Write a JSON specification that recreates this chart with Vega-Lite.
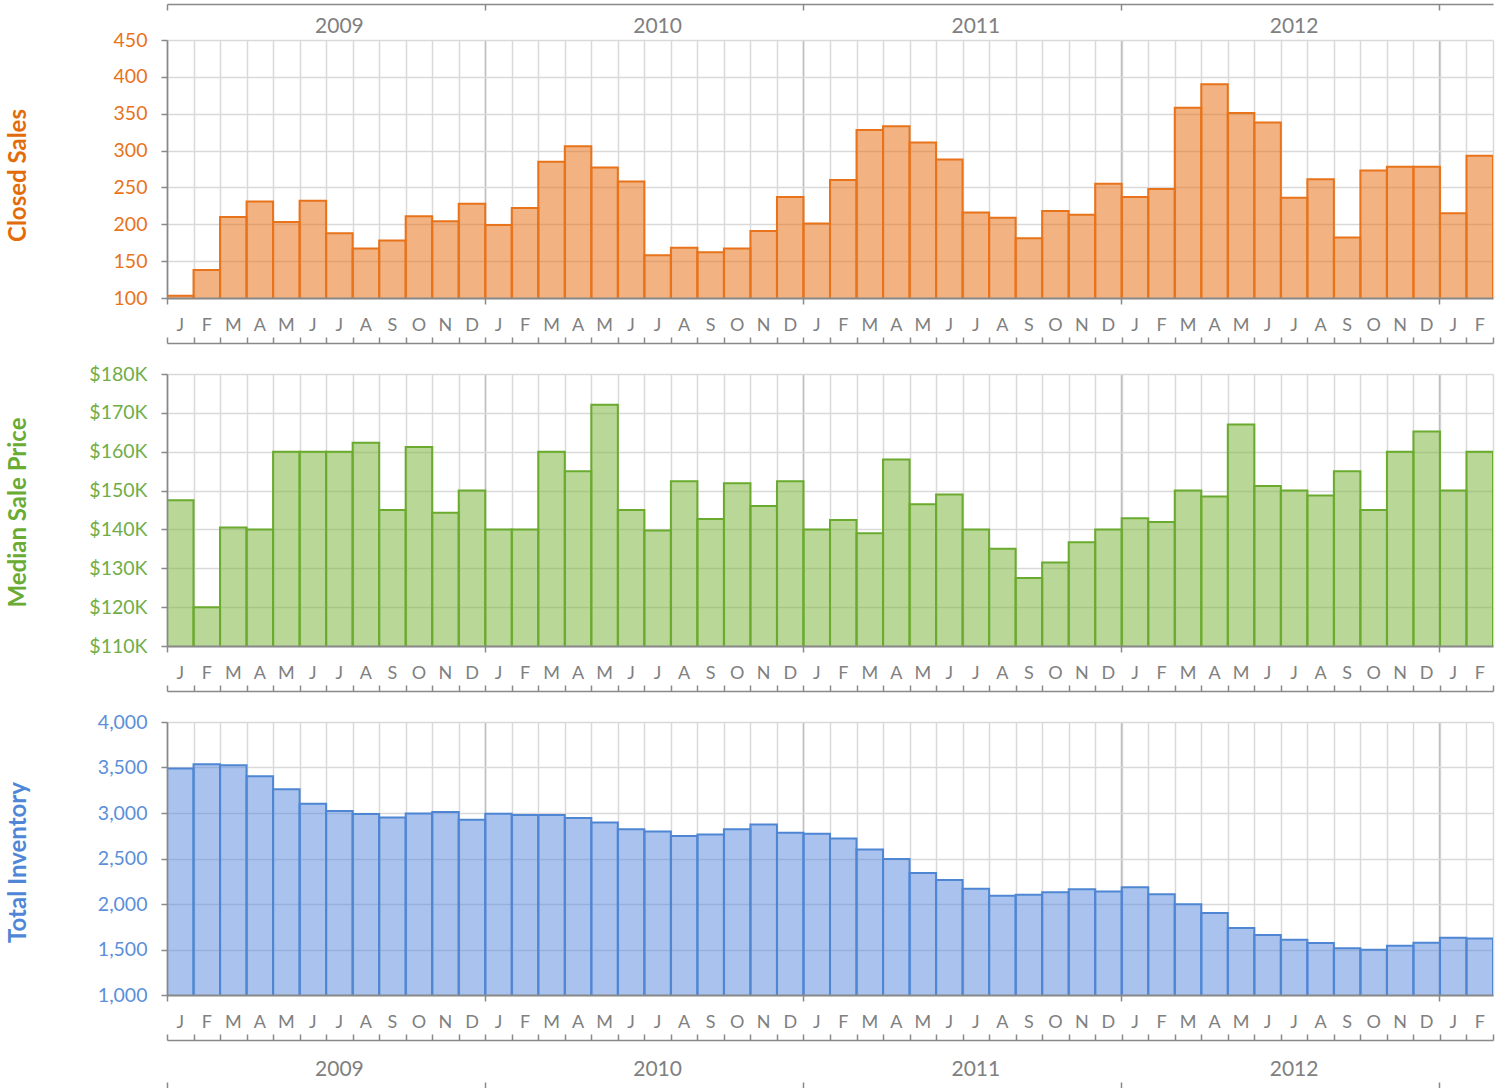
{
  "$schema": "https://vega.github.io/schema/vega-lite/v6.json",
  "background": "white",
  "padding": {"left": 6, "top": 3, "right": 5, "bottom": 0},
  "config": {
    "font": "Lato",
    "view": {"stroke": null},
    "axis": {"labelFont": "Lato", "titleFont": "Lato"}
  },
  "data": {"values": [
    {"m": "2009-01", "sales": 103, "price": 147500, "inv": 3488},
    {"m": "2009-02", "sales": 138, "price": 120000, "inv": 3536},
    {"m": "2009-03", "sales": 210, "price": 140500, "inv": 3525},
    {"m": "2009-04", "sales": 231, "price": 140000, "inv": 3404},
    {"m": "2009-05", "sales": 203, "price": 160000, "inv": 3260},
    {"m": "2009-06", "sales": 232, "price": 160000, "inv": 3102},
    {"m": "2009-07", "sales": 188, "price": 160000, "inv": 3021},
    {"m": "2009-08", "sales": 167, "price": 162300, "inv": 2988},
    {"m": "2009-09", "sales": 178, "price": 145000, "inv": 2951},
    {"m": "2009-10", "sales": 211, "price": 161200, "inv": 2995},
    {"m": "2009-11", "sales": 204, "price": 144300, "inv": 3010},
    {"m": "2009-12", "sales": 228, "price": 150000, "inv": 2925},
    {"m": "2010-01", "sales": 199, "price": 140000, "inv": 2991},
    {"m": "2010-02", "sales": 222, "price": 140000, "inv": 2977},
    {"m": "2010-03", "sales": 285, "price": 160000, "inv": 2977},
    {"m": "2010-04", "sales": 306, "price": 155000, "inv": 2944},
    {"m": "2010-05", "sales": 277, "price": 172100, "inv": 2896},
    {"m": "2010-06", "sales": 258, "price": 145000, "inv": 2822},
    {"m": "2010-07", "sales": 158, "price": 139700, "inv": 2796},
    {"m": "2010-08", "sales": 168, "price": 152400, "inv": 2748},
    {"m": "2010-09", "sales": 162, "price": 142700, "inv": 2763},
    {"m": "2010-10", "sales": 167, "price": 151900, "inv": 2822},
    {"m": "2010-11", "sales": 191, "price": 146000, "inv": 2874},
    {"m": "2010-12", "sales": 237, "price": 152400, "inv": 2782},
    {"m": "2011-01", "sales": 201, "price": 140000, "inv": 2771},
    {"m": "2011-02", "sales": 260, "price": 142400, "inv": 2719},
    {"m": "2011-03", "sales": 328, "price": 139000, "inv": 2598},
    {"m": "2011-04", "sales": 333, "price": 158000, "inv": 2494},
    {"m": "2011-05", "sales": 311, "price": 146500, "inv": 2340},
    {"m": "2011-06", "sales": 288, "price": 149000, "inv": 2263},
    {"m": "2011-07", "sales": 216, "price": 140000, "inv": 2167},
    {"m": "2011-08", "sales": 209, "price": 135000, "inv": 2090},
    {"m": "2011-09", "sales": 181, "price": 127500, "inv": 2101},
    {"m": "2011-10", "sales": 218, "price": 131500, "inv": 2130},
    {"m": "2011-11", "sales": 213, "price": 136700, "inv": 2163},
    {"m": "2011-12", "sales": 255, "price": 140000, "inv": 2137},
    {"m": "2012-01", "sales": 237, "price": 142900, "inv": 2185},
    {"m": "2012-02", "sales": 248, "price": 141900, "inv": 2108},
    {"m": "2012-03", "sales": 358, "price": 150000, "inv": 1998},
    {"m": "2012-04", "sales": 390, "price": 148500, "inv": 1902},
    {"m": "2012-05", "sales": 351, "price": 167000, "inv": 1736},
    {"m": "2012-06", "sales": 338, "price": 151200, "inv": 1659},
    {"m": "2012-07", "sales": 236, "price": 150000, "inv": 1607},
    {"m": "2012-08", "sales": 261, "price": 148700, "inv": 1571},
    {"m": "2012-09", "sales": 182, "price": 155000, "inv": 1515},
    {"m": "2012-10", "sales": 273, "price": 145000, "inv": 1497},
    {"m": "2012-11", "sales": 278, "price": 160000, "inv": 1541},
    {"m": "2012-12", "sales": 278, "price": 165200, "inv": 1574},
    {"m": "2013-01", "sales": 215, "price": 150000, "inv": 1629},
    {"m": "2013-02", "sales": 293, "price": 160000, "inv": 1622}
  ]},
  "bounds": "flush",
  "spacing": 76,
  "vconcat": [
    {
      "width": 1326,
      "height": 258,
      "resolve": {"axis": {"x": "independent", "y": "independent"}},
      "layer": [
        {
          "mark": {"type": "bar", "fill": "#E8731A", "fillOpacity": 0.55, "stroke": "#E8731A", "strokeWidth": 2, "clip": true},
          "encoding": {
            "x": {"field": "m", "type": "ordinal", "scale": {"type": "band", "paddingInner": 0, "paddingOuter": 0},
              "axis": {"orient": "bottom", "title": null, "labels": false, "ticks": false, "domain": false, "grid": true, "tickBand": "extent", "gridColor": "#d9d9d9", "gridWidth": 1.5}},
            "y": {"field": "sales", "type": "quantitative", "scale": {"domain": [100, 450], "zero": false, "nice": false},
              "axis": {"orient": "left", "title": null, "labels": false, "ticks": false, "domain": false, "grid": true, "values": [100, 150, 200, 250, 300, 350, 400, 450], "gridColor": "#d9d9d9", "gridWidth": 1.5}}
          }
        },
        {
          "mark": {"type": "bar", "opacity": 0, "clip": true},
          "encoding": {
            "x": {"field": "m", "type": "ordinal", "scale": {"type": "band", "paddingInner": 0, "paddingOuter": 0},
              "axis": {"orient": "bottom", "title": null, "labels": false, "ticks": false, "domain": false, "grid": true, "values": ["2009-01", "2010-01", "2011-01", "2012-01", "2013-01"], "bandPosition": 0, "gridColor": "#bfbfbf", "gridWidth": 1.5}},
            "y": {"field": "sales", "type": "quantitative",
              "axis": {"orient": "left", "title": "Closed Sales", "titleColor": "#E36C0A", "titleFontSize": 24, "titleFontWeight": "bold", "titleX": -149, "titleY": 135, "titleAngle": -90, "titleBaseline": "middle", "titleAlign": "center",
                "values": [100, 150, 200, 250, 300, 350, 400, 450], "labelColor": "#E8731A", "labelFontSize": 19.5, "labelPadding": 14, "tickSize": 6, "tickColor": "#898989", "tickWidth": 1.5, "domainColor": "#898989", "domainWidth": 1.5, "grid": false, "zindex": 1}}
          }
        },
        {
          "mark": {"type": "bar", "opacity": 0, "clip": true},
          "encoding": {
            "x": {"field": "m", "type": "ordinal", "scale": {"type": "band", "paddingInner": 0, "paddingOuter": 0},
              "axis": {"orient": "bottom", "title": null, "domain": false, "ticks": false, "grid": false, "labelExpr": "['J','F','M','A','M','J','J','A','S','O','N','D'][toNumber(slice(datum.value,5,7))-1]", "labelColor": "#808080", "labelFontSize": 18, "labelPadding": 27, "labelBaseline": "middle", "labelAngle": 0, "labelOverlap": false, "labelFlush": false}},
            "y": {"field": "sales", "type": "quantitative", "axis": null}
          }
        },
        {
          "mark": {"type": "bar", "opacity": 0, "clip": true},
          "encoding": {
            "x": {"field": "m", "type": "ordinal", "scale": {"type": "band", "paddingInner": 0, "paddingOuter": 0},
              "axis": {"orient": "bottom", "title": null, "labels": false, "grid": false, "domain": true, "domainColor": "#898989", "domainWidth": 2, "ticks": true, "values": ["2009-01", "2010-01", "2011-01", "2012-01", "2013-01"], "bandPosition": 0, "tickSize": 6, "tickColor": "#898989", "tickWidth": 1.5, "zindex": 1}},
            "y": {"field": "sales", "type": "quantitative", "axis": null}
          }
        },
        {
          "mark": {"type": "bar", "opacity": 0, "clip": true},
          "encoding": {
            "x": {"field": "m", "type": "ordinal", "scale": {"type": "band", "paddingInner": 0, "paddingOuter": 0},
              "axis": {"orient": "bottom", "offset": 45, "title": null, "labels": false, "grid": false, "domain": true, "domainColor": "#898989", "domainWidth": 1.5, "ticks": true, "tickBand": "extent", "tickSize": -6, "tickColor": "#898989", "tickWidth": 1.5}},
            "y": {"field": "sales", "type": "quantitative", "axis": null}
          }
        },
        {
          "mark": {"type": "bar", "opacity": 0, "clip": true},
          "encoding": {
            "x": {"field": "m", "type": "ordinal", "scale": {"type": "band", "paddingInner": 0, "paddingOuter": 0},
              "axis": {"orient": "top", "offset": 36, "title": null, "labels": false, "grid": false, "domain": true, "domainColor": "#898989", "domainWidth": 1.5, "ticks": true, "values": ["2009-01", "2010-01", "2011-01", "2012-01", "2013-01"], "bandPosition": 0, "tickSize": -6, "tickColor": "#898989", "tickWidth": 1.5}},
            "y": {"field": "sales", "type": "quantitative", "axis": null}
          }
        },
        {
          "mark": {"type": "bar", "opacity": 0, "clip": true},
          "encoding": {
            "x": {"field": "m", "type": "ordinal", "scale": {"type": "band", "paddingInner": 0, "paddingOuter": 0},
              "axis": {"orient": "top", "title": null, "domain": false, "ticks": false, "grid": false, "values": ["2009-07", "2010-07", "2011-07", "2012-07"], "labelExpr": "slice(datum.value,0,4)", "labelColor": "#808080", "labelFontSize": 21, "labelPadding": 14, "labelBaseline": "middle", "labelAngle": 0, "labelOverlap": false}},
            "y": {"field": "sales", "type": "quantitative", "axis": null}
          }
        }
      ]
    },
    {
      "width": 1326,
      "height": 272,
      "resolve": {"axis": {"x": "independent", "y": "independent"}},
      "layer": [
        {
          "mark": {"type": "bar", "fill": "#7FB842", "fillOpacity": 0.55, "stroke": "#6AAA2E", "strokeWidth": 2, "clip": true},
          "encoding": {
            "x": {"field": "m", "type": "ordinal", "scale": {"type": "band", "paddingInner": 0, "paddingOuter": 0},
              "axis": {"orient": "bottom", "title": null, "labels": false, "ticks": false, "domain": false, "grid": true, "tickBand": "extent", "gridColor": "#d9d9d9", "gridWidth": 1.5}},
            "y": {"field": "price", "type": "quantitative", "scale": {"domain": [110000, 180000], "zero": false, "nice": false},
              "axis": {"orient": "left", "title": null, "labels": false, "ticks": false, "domain": false, "grid": true, "values": [110000, 120000, 130000, 140000, 150000, 160000, 170000, 180000], "gridColor": "#d9d9d9", "gridWidth": 1.5}}
          }
        },
        {
          "mark": {"type": "bar", "opacity": 0, "clip": true},
          "encoding": {
            "x": {"field": "m", "type": "ordinal", "scale": {"type": "band", "paddingInner": 0, "paddingOuter": 0},
              "axis": {"orient": "bottom", "title": null, "labels": false, "ticks": false, "domain": false, "grid": true, "values": ["2009-01", "2010-01", "2011-01", "2012-01", "2013-01"], "bandPosition": 0, "gridColor": "#bfbfbf", "gridWidth": 1.5}},
            "y": {"field": "price", "type": "quantitative",
              "axis": {"orient": "left", "title": "Median Sale Price", "titleColor": "#6AAB34", "titleFontSize": 24, "titleFontWeight": "bold", "titleX": -149, "titleY": 138, "titleAngle": -90, "titleBaseline": "middle", "titleAlign": "center",
                "values": [110000, 120000, 130000, 140000, 150000, 160000, 170000, 180000], "labelExpr": "'$' + format(datum.value/1000, 'd') + 'K'", "labelColor": "#70AD47", "labelFontSize": 19.5, "labelPadding": 14, "tickSize": 6, "tickColor": "#898989", "tickWidth": 1.5, "domainColor": "#898989", "domainWidth": 1.5, "grid": false, "zindex": 1}}
          }
        },
        {
          "mark": {"type": "bar", "opacity": 0, "clip": true},
          "encoding": {
            "x": {"field": "m", "type": "ordinal", "scale": {"type": "band", "paddingInner": 0, "paddingOuter": 0},
              "axis": {"orient": "bottom", "title": null, "domain": false, "ticks": false, "grid": false, "labelExpr": "['J','F','M','A','M','J','J','A','S','O','N','D'][toNumber(slice(datum.value,5,7))-1]", "labelColor": "#808080", "labelFontSize": 18, "labelPadding": 27, "labelBaseline": "middle", "labelAngle": 0, "labelOverlap": false, "labelFlush": false}},
            "y": {"field": "price", "type": "quantitative", "axis": null}
          }
        },
        {
          "mark": {"type": "bar", "opacity": 0, "clip": true},
          "encoding": {
            "x": {"field": "m", "type": "ordinal", "scale": {"type": "band", "paddingInner": 0, "paddingOuter": 0},
              "axis": {"orient": "bottom", "title": null, "labels": false, "grid": false, "domain": true, "domainColor": "#898989", "domainWidth": 2, "ticks": true, "values": ["2009-01", "2010-01", "2011-01", "2012-01", "2013-01"], "bandPosition": 0, "tickSize": 6, "tickColor": "#898989", "tickWidth": 1.5, "zindex": 1}},
            "y": {"field": "price", "type": "quantitative", "axis": null}
          }
        },
        {
          "mark": {"type": "bar", "opacity": 0, "clip": true},
          "encoding": {
            "x": {"field": "m", "type": "ordinal", "scale": {"type": "band", "paddingInner": 0, "paddingOuter": 0},
              "axis": {"orient": "bottom", "offset": 45, "title": null, "labels": false, "grid": false, "domain": true, "domainColor": "#898989", "domainWidth": 1.5, "ticks": true, "tickBand": "extent", "tickSize": -6, "tickColor": "#898989", "tickWidth": 1.5}},
            "y": {"field": "price", "type": "quantitative", "axis": null}
          }
        }
      ]
    },
    {
      "width": 1326,
      "height": 273,
      "resolve": {"axis": {"x": "independent", "y": "independent"}},
      "layer": [
        {
          "mark": {"type": "bar", "fill": "#5588DD", "fillOpacity": 0.5, "stroke": "#4F86D4", "strokeWidth": 2, "clip": true},
          "encoding": {
            "x": {"field": "m", "type": "ordinal", "scale": {"type": "band", "paddingInner": 0, "paddingOuter": 0},
              "axis": {"orient": "bottom", "title": null, "labels": false, "ticks": false, "domain": false, "grid": true, "tickBand": "extent", "gridColor": "#d9d9d9", "gridWidth": 1.5}},
            "y": {"field": "inv", "type": "quantitative", "scale": {"domain": [1000, 4000], "zero": false, "nice": false},
              "axis": {"orient": "left", "title": null, "labels": false, "ticks": false, "domain": false, "grid": true, "values": [1000, 1500, 2000, 2500, 3000, 3500, 4000], "gridColor": "#d9d9d9", "gridWidth": 1.5}}
          }
        },
        {
          "mark": {"type": "bar", "opacity": 0, "clip": true},
          "encoding": {
            "x": {"field": "m", "type": "ordinal", "scale": {"type": "band", "paddingInner": 0, "paddingOuter": 0},
              "axis": {"orient": "bottom", "title": null, "labels": false, "ticks": false, "domain": false, "grid": true, "values": ["2009-01", "2010-01", "2011-01", "2012-01", "2013-01"], "bandPosition": 0, "gridColor": "#bfbfbf", "gridWidth": 1.5}},
            "y": {"field": "inv", "type": "quantitative",
              "axis": {"orient": "left", "title": "Total Inventory", "titleColor": "#4F86D6", "titleFontSize": 24, "titleFontWeight": "bold", "titleX": -149, "titleY": 140, "titleAngle": -90, "titleBaseline": "middle", "titleAlign": "center",
                "values": [1000, 1500, 2000, 2500, 3000, 3500, 4000], "format": ",d", "labelColor": "#5B8FD9", "labelFontSize": 19.5, "labelPadding": 14, "tickSize": 6, "tickColor": "#898989", "tickWidth": 1.5, "domainColor": "#898989", "domainWidth": 1.5, "grid": false, "zindex": 1}}
          }
        },
        {
          "mark": {"type": "bar", "opacity": 0, "clip": true},
          "encoding": {
            "x": {"field": "m", "type": "ordinal", "scale": {"type": "band", "paddingInner": 0, "paddingOuter": 0},
              "axis": {"orient": "bottom", "title": null, "domain": false, "ticks": false, "grid": false, "labelExpr": "['J','F','M','A','M','J','J','A','S','O','N','D'][toNumber(slice(datum.value,5,7))-1]", "labelColor": "#808080", "labelFontSize": 18, "labelPadding": 27, "labelBaseline": "middle", "labelAngle": 0, "labelOverlap": false, "labelFlush": false}},
            "y": {"field": "inv", "type": "quantitative", "axis": null}
          }
        },
        {
          "mark": {"type": "bar", "opacity": 0, "clip": true},
          "encoding": {
            "x": {"field": "m", "type": "ordinal", "scale": {"type": "band", "paddingInner": 0, "paddingOuter": 0},
              "axis": {"orient": "bottom", "title": null, "labels": false, "grid": false, "domain": true, "domainColor": "#898989", "domainWidth": 2, "ticks": true, "values": ["2009-01", "2010-01", "2011-01", "2012-01", "2013-01"], "bandPosition": 0, "tickSize": 6, "tickColor": "#898989", "tickWidth": 1.5, "zindex": 1}},
            "y": {"field": "inv", "type": "quantitative", "axis": null}
          }
        },
        {
          "mark": {"type": "bar", "opacity": 0, "clip": true},
          "encoding": {
            "x": {"field": "m", "type": "ordinal", "scale": {"type": "band", "paddingInner": 0, "paddingOuter": 0},
              "axis": {"orient": "bottom", "offset": 45, "title": null, "labels": false, "grid": false, "domain": true, "domainColor": "#898989", "domainWidth": 1.5, "ticks": true, "tickBand": "extent", "tickSize": -6, "tickColor": "#898989", "tickWidth": 1.5}},
            "y": {"field": "inv", "type": "quantitative", "axis": null}
          }
        },
        {
          "mark": {"type": "bar", "opacity": 0, "clip": true},
          "encoding": {
            "x": {"field": "m", "type": "ordinal", "scale": {"type": "band", "paddingInner": 0, "paddingOuter": 0},
              "axis": {"orient": "bottom", "title": null, "domain": false, "ticks": false, "grid": false, "values": ["2009-07", "2010-07", "2011-07", "2012-07"], "labelExpr": "slice(datum.value,0,4)", "labelColor": "#808080", "labelFontSize": 21, "labelPadding": 74, "labelBaseline": "middle", "labelAngle": 0, "labelOverlap": false}},
            "y": {"field": "inv", "type": "quantitative", "axis": null}
          }
        },
        {
          "mark": {"type": "bar", "opacity": 0, "clip": true},
          "encoding": {
            "x": {"field": "m", "type": "ordinal", "scale": {"type": "band", "paddingInner": 0, "paddingOuter": 0},
              "axis": {"orient": "bottom", "offset": 87, "title": null, "labels": false, "grid": false, "domain": false, "ticks": true, "values": ["2009-01", "2010-01", "2011-01", "2012-01", "2013-01"], "bandPosition": 0, "tickSize": 8, "tickColor": "#898989", "tickWidth": 1.5}},
            "y": {"field": "inv", "type": "quantitative", "axis": null}
          }
        }
      ]
    }
  ]
}
